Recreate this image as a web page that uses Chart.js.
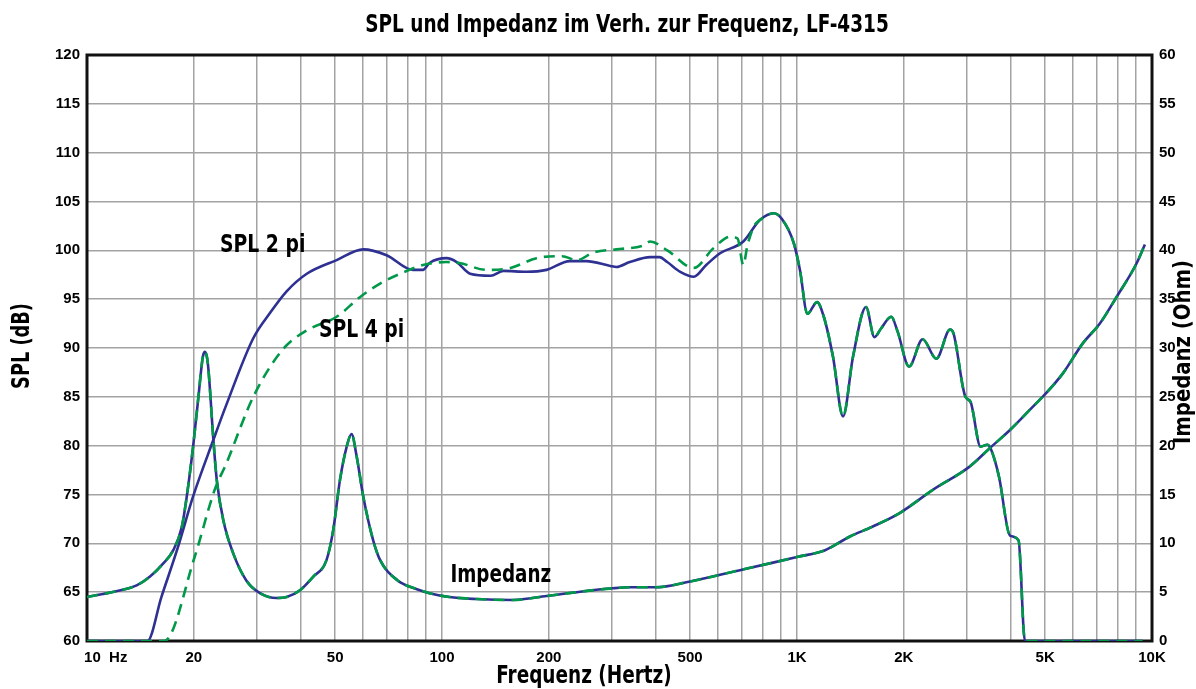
<!DOCTYPE html>
<html>
<head>
<meta charset="utf-8">
<script src="https://cdn.jsdelivr.net/npm/chart.js@4/dist/chart.umd.min.js"></script>
<style>
html, body { margin: 0; padding: 0; background: #fff; }
#wrap { width: 1196px; height: 689px; }
</style>
</head>
<body>
<div id="wrap"><canvas id="chart"></canvas></div>
<script>
// Werte (Frequenz in Hz)

// SPL 2 pi (dB)
var spl2Freq = [10, 14.8, 16.2, 18, 19.9, 22.7, 24.7, 29.4, 32.8, 36.5, 41.6, 50.5, 60, 69.8, 82.8, 88.4,
    92.2, 103, 110, 120, 137, 149, 173, 197, 229, 255, 298, 310, 338, 386, 410, 431, 469, 512, 555,
    607, 706, 786, 860, 907, 980, 1019, 1070, 1139, 1190, 1263, 1348, 1438, 1565, 1652, 1725, 1843,
    1920, 2069, 2259, 2469, 2699, 2760, 2981, 3080, 3289, 3438, 3512, 3708, 3981, 4208, 4386, 9400];
var spl2Db = [60, 60, 64.5, 69.5, 74.8, 80.6, 84.2, 91.0, 93.6, 95.8, 97.6, 99.0, 100.1, 99.5, 98.0, 98.0,
    98.7, 99.2, 98.8, 97.6, 97.4, 97.9, 97.8, 98.0, 98.9, 98.9, 98.4, 98.3, 98.8, 99.3, 99.3, 98.8, 97.8, 97.3, 98.5,
    99.7, 100.9, 103.1, 103.8, 103.2, 100.7, 98.0, 93.5, 94.7, 93.2, 89.1, 83.0, 89.1, 94.2, 91.1, 92.0, 93.2,
    91.7, 88.1, 90.9, 88.9, 91.9, 91.5, 85.0, 84.5, 79.9, 80.1, 79.7, 76.8, 70.8, 70.3, 60, 60];

// SPL 4 pi (dB)
var spl4Freq = [10, 16.5, 20.1, 22.9, 24.7, 29.4, 35.7, 41.6, 50.5, 58.7, 66.9, 76.2, 88.4, 103, 112,
    133.5, 156, 184.6, 218, 239.6, 268, 310, 369, 386, 431, 512, 581, 649, 680, 706, 725, 755, 786,
    860, 907, 980, 1019, 1070, 1139, 1190, 1263, 1348, 1438, 1565, 1652, 1725, 1843,
    1920, 2069, 2259, 2469, 2699, 2760, 2981, 3080, 3289, 3438, 3512, 3708, 3981, 4208, 4386, 9400];
var spl4Db = [60, 60, 68.6, 75.5, 78.2, 85.0, 89.9, 91.8, 93.2, 95.2, 96.6, 97.6, 98.5, 98.8, 98.7,
    98.0, 98.2, 99.2, 99.4, 99.0, 99.8, 100.1, 100.5, 100.9, 100.0, 98.2, 100.2, 101.4, 101.2, 98.5, 100.5, 102.4, 103.1,
    103.8, 103.2, 100.7, 98.0, 93.5, 94.7, 93.2, 89.1, 83.0, 89.1, 94.2, 91.1, 92.0, 93.2,
    91.7, 88.1, 90.9, 88.9, 91.9, 91.5, 85.0, 84.5, 79.9, 80.1, 79.7, 76.8, 70.8, 70.3, 60, 60];

// Impedanz (Ohm)
var impFreq = [10, 11.9, 13.8, 15.05, 16.4, 17.5, 18.5, 19.1, 19.9, 20.6, 21.2, 21.5, 21.9, 22.7, 23.2,
    24.2, 25.8, 28.1, 30.7, 34.2, 36.5, 39.8, 43.4, 47.3, 49.4, 51.6, 53.9, 55.6, 57.5, 60, 64, 66.9,
    75, 85, 92.2, 105, 125, 158, 197, 245, 303, 338, 400, 500, 700, 850, 1000, 1200, 1410, 1630, 1946,
    2419, 3050, 3530, 3981, 4620, 5040, 5610, 6390, 7130, 7940, 9060, 9550];
var impOhm = [4.5, 5.05, 5.7, 6.6, 7.95, 9.3, 11.7, 14.8, 19.9, 25.0, 29.1, 29.6, 28.4, 20.6, 16.5,
    12.4, 9.0, 6.2, 4.9, 4.4, 4.5, 5.2, 6.6, 8.3, 11.4, 16.5, 19.9, 21.2, 18.9, 14.8, 10.3, 8.3,
    6.2, 5.3, 4.9, 4.5, 4.3, 4.2, 4.6, 5.05, 5.4, 5.5, 5.5, 6.1, 7.3, 8.0, 8.6, 9.3, 10.7, 11.7, 13.1,
    15.5, 17.8, 19.9, 21.6, 24.0, 25.4, 27.4, 30.5, 32.5, 35.2, 38.7, 40.6];

// Gitterlinien und Beschriftung der Frequenzachse
var xGrid = [10, 20, 30, 40, 50, 60, 70, 80, 90, 100, 200, 300, 400, 500, 600, 700, 800, 900,
    1000, 2000, 3000, 4000, 5000, 6000, 7000, 8000, 9000, 10000];
var xLabels = { 10: '         10  Hz', 20: '20', 50: '50', 100: '100', 200: '200', 500: '500',
    1000: '1K', 2000: '2K', 5000: '5K', 10000: '10K' };

var blau = '#2e3192';
var gruen = '#00994a';
var schrift = "'DejaVu Sans Condensed', 'DejaVu Sans', sans-serif";
var tickSchrift = "'Liberation Sans', Arial, sans-serif";

function toPoints(xs, ys) {
    var arr = [];
    for (var i = 0; i < xs.length; i++) {
        arr.push({ x: xs[i], y: ys[i] });
    }
    return arr;
}

// Text schmal gestaucht zeichnen (Schrift im Original ist eine Condensed)
function schmalText(ctx, text, x, y, size, sx, align, rot) {
    ctx.save();
    ctx.translate(x, y);
    if (rot) ctx.rotate(rot);
    ctx.scale(sx, 1);
    ctx.font = 'bold ' + size + 'px ' + schrift;
    ctx.textAlign = align;
    ctx.fillText(text, 0, 0);
    ctx.restore();
}

// Rahmen um den Plotbereich
var rahmenPlugin = {
    id: 'rahmen',
    beforeDatasetsDraw: function(chart) {
        var a = chart.chartArea, ctx = chart.ctx;
        ctx.save();
        ctx.strokeStyle = '#111';
        ctx.lineWidth = 3;
        ctx.strokeRect(a.left, a.top, a.right - a.left, a.bottom - a.top);
        ctx.restore();
    }
};

// Titel, Achsentitel und Kurvenbeschriftungen
var textPlugin = {
    id: 'texte',
    afterDraw: function(chart) {
        var ctx = chart.ctx;
        var sx = chart.scales.x, ys = chart.scales.ySpl, yi = chart.scales.yImp;
        ctx.save();
        ctx.fillStyle = '#000';
        ctx.textBaseline = 'alphabetic';

        schmalText(ctx, 'SPL und Impedanz im Verh. zur Frequenz, LF-4315', 627, 32, 24, 0.855, 'center', 0);
        schmalText(ctx, 'Frequenz (Hertz)', 584, 683, 25, 0.82, 'center', 0);

        ctx.textBaseline = 'middle';
        schmalText(ctx, 'SPL (dB)', 22, 346, 25, 0.79, 'center', -Math.PI / 2);
        schmalText(ctx, 'Impedanz (Ohm)', 1184, 352, 23, 0.95, 'center', -Math.PI / 2);

        ctx.textBaseline = 'alphabetic';
        schmalText(ctx, 'SPL 2 pi', sx.getPixelForValue(23.7), ys.getPixelForValue(99.8), 24, 0.87, 'left', 0);
        schmalText(ctx, 'SPL 4 pi', sx.getPixelForValue(45), ys.getPixelForValue(91.1), 24, 0.87, 'left', 0);
        schmalText(ctx, 'Impedanz', sx.getPixelForValue(105.6), yi.getPixelForValue(6.0), 24, 0.85, 'left', 0);
        ctx.restore();
    }
};

var linie = { borderWidth: 2.6, pointRadius: 0, fill: false, cubicInterpolationMode: 'monotone' };
var tickFont = { family: tickSchrift, size: 15, weight: 'bold' };

new Chart(document.getElementById('chart'), {
    type: 'line',
    data: {
        datasets: [
            Object.assign({ label: 'SPL 4 pi', data: toPoints(spl4Freq, spl4Db), yAxisID: 'ySpl',
                borderColor: gruen, borderDash: [11, 7], order: 0 }, linie),
            Object.assign({ label: 'Impedanz 4 pi', data: toPoints(impFreq, impOhm), yAxisID: 'yImp',
                borderColor: gruen, borderDash: [11, 7], order: 0 }, linie),
            Object.assign({ label: 'SPL 2 pi', data: toPoints(spl2Freq, spl2Db), yAxisID: 'ySpl',
                borderColor: blau, order: 1 }, linie),
            Object.assign({ label: 'Impedanz 2 pi', data: toPoints(impFreq, impOhm), yAxisID: 'yImp',
                borderColor: blau, order: 1 }, linie)
        ]
    },
    options: {
        responsive: true,
        maintainAspectRatio: false,
        animation: false,
        layout: { padding: { top: 55, left: 0, right: 0, bottom: 0 } },
        plugins: {
            legend: { display: false },
            tooltip: { enabled: false },
            title: { display: false }
        },
        scales: {
            x: {
                type: 'logarithmic',
                min: 10,
                max: 10000,
                afterBuildTicks: function(s) {
                    s.ticks = xGrid.map(function(v) { return { value: v }; });
                },
                afterFit: function(s) { s.height = 48; },
                ticks: {
                    autoSkip: false,
                    maxRotation: 0,
                    padding: 8,
                    color: '#000',
                    font: tickFont,
                    callback: function(v) { return xLabels[v] || ''; }
                },
                grid: { color: '#a3a3a3', lineWidth: 1.5, drawTicks: false },
                border: { display: false }
            },
            ySpl: {
                type: 'linear',
                position: 'left',
                min: 60,
                max: 120,
                afterFit: function(s) { s.width = 87; },
                ticks: {
                    stepSize: 5,
                    padding: 7,
                    color: '#000',
                    font: tickFont
                },
                grid: { color: '#a3a3a3', lineWidth: 1.5, drawTicks: false },
                border: { display: false }
            },
            yImp: {
                type: 'linear',
                position: 'right',
                min: 0,
                max: 60,
                afterFit: function(s) { s.width = 44; },
                ticks: {
                    stepSize: 5,
                    padding: 7,
                    color: '#000',
                    font: tickFont
                },
                grid: { display: false, drawTicks: false },
                border: { display: false }
            }
        }
    },
    plugins: [rahmenPlugin, textPlugin]
});
</script>
</body>
</html>
